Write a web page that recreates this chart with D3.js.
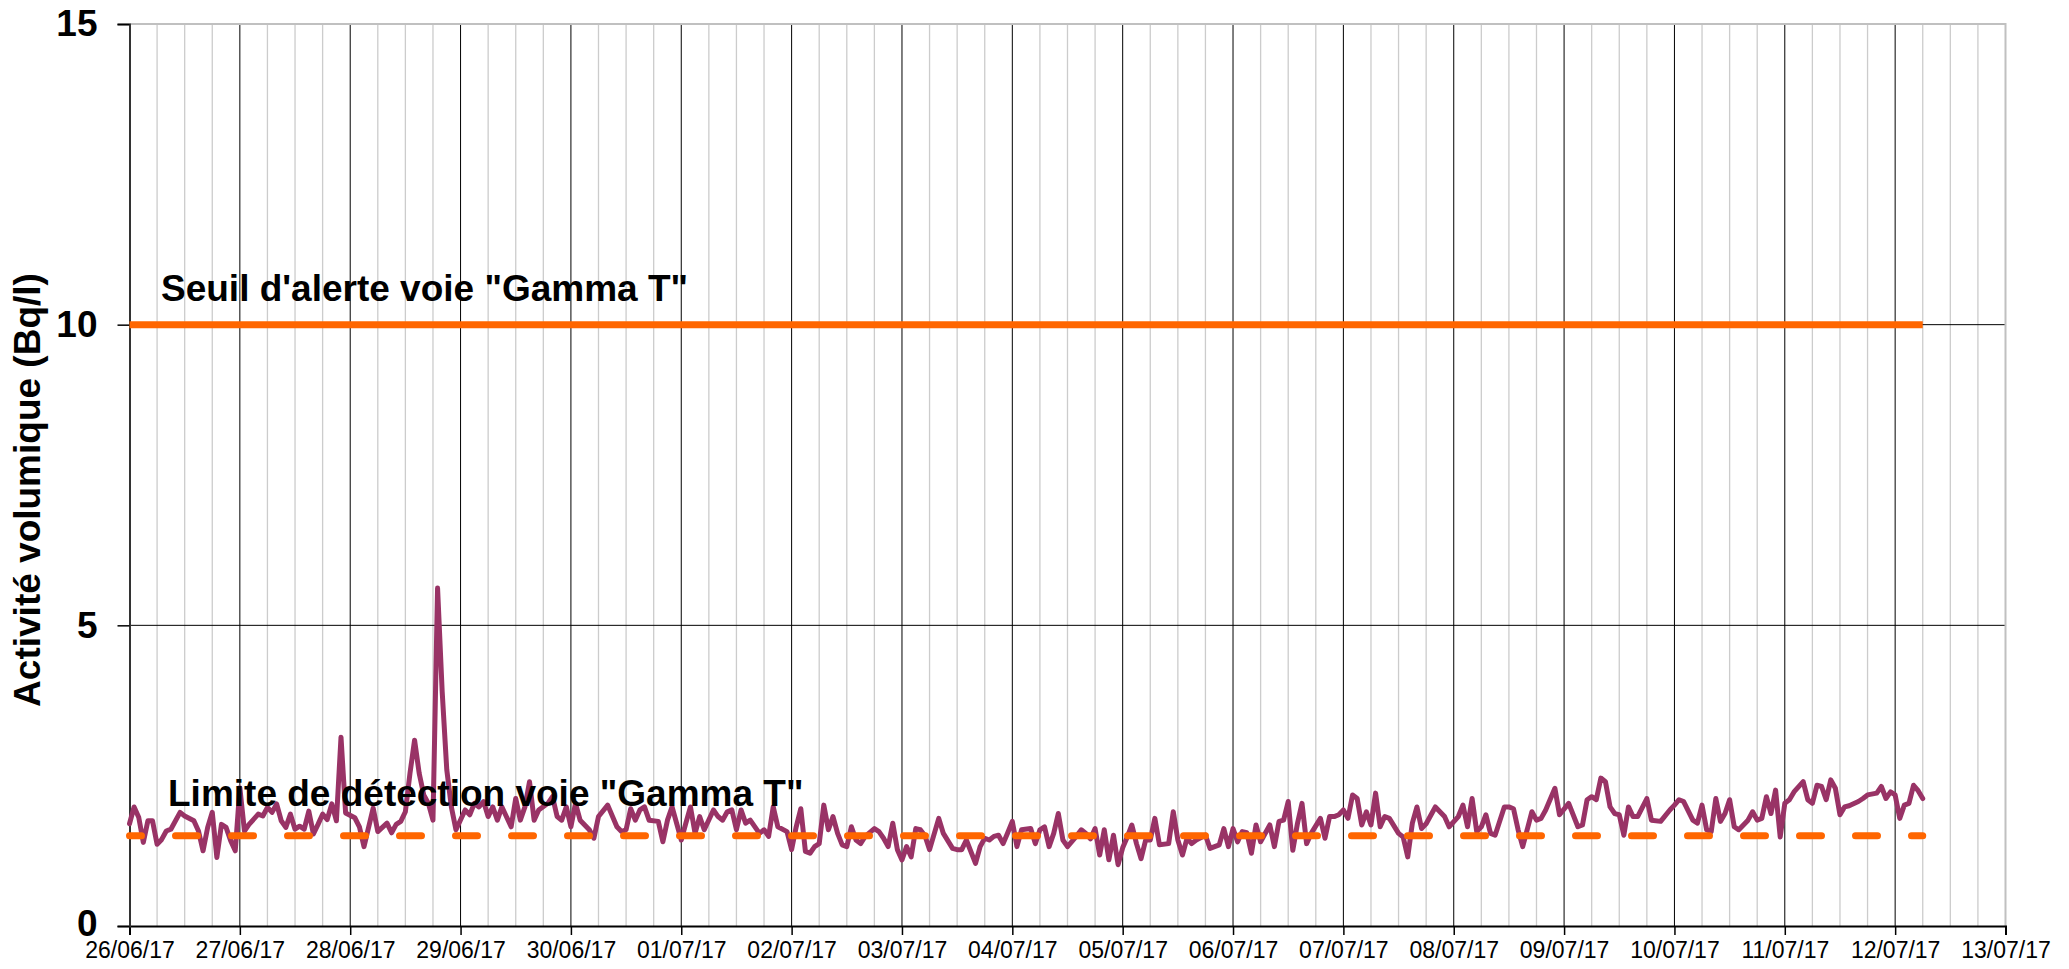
<!DOCTYPE html>
<html><head><meta charset="utf-8">
<script src="https://cdn.jsdelivr.net/npm/d3@7"></script>
<style>body{margin:0;background:#fff} svg{display:block} text{font-family:"Liberation Sans",Arial,sans-serif}</style>
</head><body><svg id="c" width="2069" height="969"></svg>
<script>
// ---- data (hours since 26/06/17 00:00, activity in Bq/l) ----
const hours=[0,1,2,3,4,5,6,7,8,9,11,12,14,15,16,17,18,19,20,21,22,23,24,25,26,28,29,30,31,32,33,34,35,36,37,38,39,40,41,42,43,44,45,46,47,49,50,51,53,54,56,57,58,59,60,61,62,63,64,65,66,67,68,69,70,71,73,74,75,76,77,78,79,80,81,83,84,85,86,87,88,89,91,92,93,94,95,96,97,98,100,101,102,104,106,107,108,109,110,111,112,113,115,116,117,118,120,121,122,123,124,125,127,128,129,130,131,132,133,134,135,137,138,139,140,141,143,144,145,146,147,148,149,150,151,152,153,154,155,156,157,158,159,160,162,163,164,165,166,167,168,169,170,171,172,173,174,176,177,179,180,181,182,184,185,186,187,188,189,190,191,192,193,194,196,197,198,199,200,201,202,203,204,206,207,208,209,210,211,212,213,214,215,216,217,218,219,220,221,222,223,224,226,227,228,229,230,231,232,234,235,237,238,239,240,241,242,243,244,245,246,248,249,250,251,252,253,254,255,256,257,259,260,261,262,263,264,265,266,267,268,269,270,271,272,273,274,276,277,278,279,280,281,282,284,286,287,289,290,291,292,293,294,295,296,297,299,300,301,302,303,305,306,307,308,310,311,313,315,316,317,318,319,320,321,322,323,324,325,326,327,328,330,331,333,335,336,337,338,340,341,342,343,344,345,346,347,348,349,350,352,353,354,355,356,357,358,359,360,361,362,364,365,366,367,368,369,370,371,372,373,374,376,377,378,380,381,382,383,384,385,386,387,388,389,390];
const values=[1.70,1.98,1.81,1.39,1.75,1.75,1.36,1.44,1.58,1.61,1.89,1.83,1.75,1.58,1.25,1.64,1.89,1.14,1.69,1.64,1.42,1.25,2.30,1.58,1.69,1.86,1.83,1.97,1.89,2.03,1.75,1.64,1.86,1.61,1.66,1.61,1.91,1.53,1.69,1.86,1.77,2.03,1.75,3.14,1.88,1.80,1.65,1.32,1.96,1.57,1.71,1.55,1.69,1.74,1.90,2.54,3.09,2.54,2.18,2.04,1.76,5.62,3.90,2.60,1.98,1.60,1.93,1.85,2.04,1.98,2.07,1.82,1.98,1.76,1.98,1.65,2.12,1.76,1.98,2.40,1.76,1.93,2.04,2.15,1.82,1.76,1.98,1.65,2.04,1.76,1.60,1.46,1.82,2.01,1.65,1.57,1.60,1.95,1.76,1.93,1.98,1.76,1.74,1.40,1.76,1.98,1.43,1.71,1.98,1.54,1.82,1.60,1.93,1.82,1.76,1.90,1.93,1.60,1.93,1.71,1.76,1.54,1.60,1.49,1.98,1.65,1.57,1.27,1.65,1.95,1.24,1.21,1.32,1.37,2.01,1.60,1.82,1.54,1.35,1.32,1.65,1.43,1.37,1.49,1.62,1.57,1.46,1.32,1.71,1.27,1.10,1.32,1.15,1.62,1.60,1.50,1.27,1.79,1.54,1.29,1.27,1.27,1.43,1.04,1.32,1.46,1.43,1.49,1.51,1.37,1.55,1.74,1.32,1.60,1.62,1.37,1.60,1.65,1.32,1.54,1.87,1.43,1.32,1.50,1.60,1.54,1.45,1.62,1.18,1.60,1.10,1.51,1.02,1.30,1.48,1.68,1.37,1.12,1.43,1.43,1.79,1.35,1.37,1.90,1.43,1.18,1.46,1.37,1.43,1.51,1.29,1.35,1.62,1.32,1.62,1.40,1.57,1.55,1.21,1.68,1.40,1.68,1.32,1.74,1.76,2.07,1.26,1.70,2.04,1.37,1.54,1.79,1.46,1.82,1.82,1.85,1.93,1.79,2.18,2.12,1.68,1.90,1.68,2.21,1.65,1.82,1.79,1.54,1.48,1.15,1.71,1.98,1.62,1.70,1.98,1.82,1.65,1.82,2.01,1.65,2.12,1.57,1.65,1.85,1.54,1.51,1.98,1.98,1.95,1.60,1.32,1.90,1.76,1.79,1.93,2.29,1.85,2.04,1.65,1.68,2.10,2.15,2.10,2.46,2.40,1.98,1.87,1.85,1.51,1.98,1.82,1.82,2.12,1.76,1.74,1.93,2.01,2.10,2.07,1.76,1.71,2.01,1.60,1.57,2.12,1.74,1.87,2.10,1.65,1.60,1.76,1.90,1.76,1.79,2.15,1.87,2.26,1.48,2.04,2.10,2.23,2.40,2.10,2.04,2.34,2.32,2.10,2.43,2.29,1.85,1.98,2.00,2.07,2.12,2.18,2.21,2.32,2.12,2.23,2.18,1.79,2.01,2.04,2.34,2.25,2.12];
const yTicks=[0,5,10,15];
const alertLevel=10;
const detectLevel=1.5;
const refLineHours=[0,390];
const startDate="2017-06-26", endDate="2017-07-13";
const alertLabel='Seuil d\'alerte voie "Gamma T"';
const detectLabel='Limite de détection voie "Gamma T"';
const yTitle='Activité volumique (Bq/l)';

// ---- layout ----
const L=129.5,R=2005.5,T=24,B=926;
const svg=d3.select("#c");
const t0=new Date(startDate+"T00:00:00Z"), t1=new Date(endDate+"T00:00:00Z");
const x=d3.scaleUtc().domain([t0,t1]).range([L,R]);
const y=d3.scaleLinear().domain([0,15]).range([B,T]);
const hd=h=>new Date(t0.getTime()+h*3600e3);
const days=d3.utcDay.range(t0,d3.utcDay.offset(t1,1));
const minor=d3.utcHour.every(6).range(t0,t1).filter(d=>d.getUTCHours()!==0);

// minor grid
svg.append("g").selectAll("line").data(minor).join("line")
  .attr("x1",d=>x(d)).attr("x2",d=>x(d)).attr("y1",T).attr("y2",B)
  .attr("stroke","#cccccc").attr("stroke-width",1.3);
// major day grid
svg.append("g").selectAll("line").data(days.slice(1,-1)).join("line")
  .attr("x1",d=>x(d)).attr("x2",d=>x(d)).attr("y1",T).attr("y2",B)
  .attr("stroke","#000").attr("stroke-width",1);
// horizontal grid
svg.append("g").selectAll("line").data(yTicks.slice(1,-1)).join("line")
  .attr("x1",L).attr("x2",R).attr("y1",d=>y(d)).attr("y2",d=>y(d))
  .attr("stroke","#000").attr("stroke-width",1);
// plot border top/right
svg.append("path").attr("d",`M${L},${y(15)}H${R}V${B}`).attr("fill","none")
  .attr("stroke","#c0c0c0").attr("stroke-width",2);

// axes
const xa=svg.append("g").attr("transform",`translate(0,${B})`)
  .call(d3.axisBottom(x).tickValues(days).tickFormat(d3.utcFormat("%d/%m/%y")).tickSize(9).tickPadding(7));
xa.select(".domain").attr("stroke","#000").attr("stroke-width",2);
xa.selectAll(".tick line").attr("stroke","#000").attr("stroke-width",1.5);
xa.selectAll("text").attr("font-size",23).attr("fill","#000").attr("font-family",'"Liberation Sans",Arial,sans-serif');

const ya=svg.append("g").attr("transform",`translate(${L},0)`)
  .call(d3.axisLeft(y).tickValues(yTicks).tickSize(12).tickPadding(20));
ya.select(".domain").attr("stroke","#333").attr("stroke-width",2);
ya.selectAll(".tick line").attr("stroke","#000").attr("stroke-width",1.5);
ya.selectAll("text").attr("font-size",37).attr("font-weight","bold").attr("fill","#000")
  .attr("font-family",'"Liberation Sans",Arial,sans-serif');
ya.selectAll(".tick").filter(d=>d===0).select("text").attr("dy","0.25em");

// data line
const pts=hours.map((h,i)=>({h,v:values[i]}));
svg.append("path").datum(pts)
  .attr("d",d3.line().x(d=>x(hd(d.h))).y(d=>y(d.v)))
  .attr("fill","none").attr("stroke","#993366").attr("stroke-width",5)
  .attr("stroke-linejoin","round").attr("stroke-linecap","round");

// reference lines
svg.append("path").attr("d",d3.line().x(h=>x(hd(h))).y(()=>y(alertLevel))(refLineHours))
  .attr("stroke","#ff6600").attr("stroke-width",7).attr("fill","none");
svg.append("path").attr("d",d3.line().x(h=>x(hd(h))).y(()=>y(detectLevel))(refLineHours))
  .attr("stroke","#ff6600").attr("stroke-width",7).attr("fill","none")
  .attr("stroke-dasharray","22,34").attr("stroke-dashoffset",10).attr("stroke-linecap","round");

// labels
svg.append("text").attr("x",161).attr("y",301).attr("font-size",37).attr("font-weight","bold").text(alertLabel);
svg.append("text").attr("x",168).attr("y",806).attr("font-size",37).attr("font-weight","bold").text(detectLabel);
svg.append("text").attr("transform","translate(40,490) rotate(-90)").attr("text-anchor","middle")
  .attr("font-size",37).attr("font-weight","bold").text(yTitle);
</script></body></html>
